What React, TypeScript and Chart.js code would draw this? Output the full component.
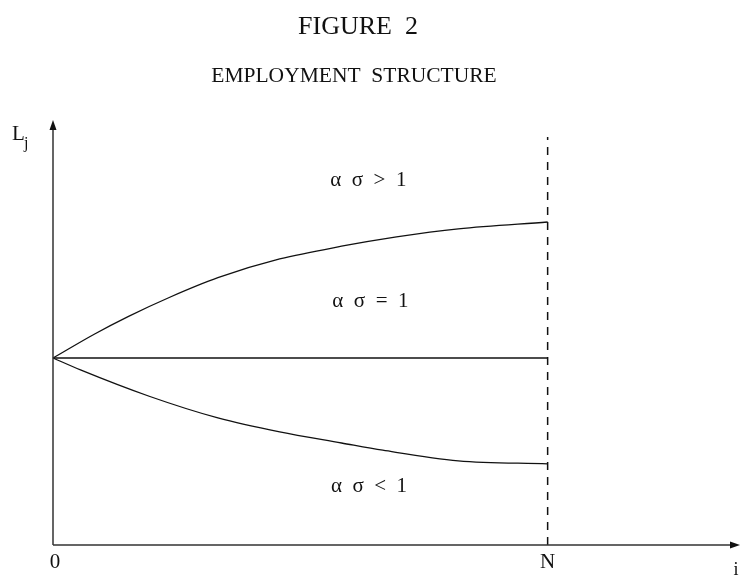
import React, { useEffect, useRef } from "react";
import { Chart, registerables } from "chart.js";

Chart.register(...registerables);

// Domain: i from 0 to 100, N at 72; L_j from 0 to 100
const X_MAX = 100;
const Y_MAX = 100;
const N_VALUE = 72;
const BASE_LEVEL = 44;
const DASH_TOP = 96;

// upper curve (alpha*sigma > 1)
const upperX = [0, 6, 11, 17, 24, 33, 42, 50, 59, 72];
const upperY = [44, 49.6, 53.8, 58.3, 62.9, 67.3, 70.3, 72.5, 74.4, 76];

// lower curve (alpha*sigma < 1)
const lowerX = [0, 4, 14, 24, 33, 42, 48, 59, 72];
const lowerY = [44, 41.2, 35, 29.9, 26.6, 24.0, 22.3, 19.8, 19.1];

// horizontal (alpha*sigma = 1)
const flatX = [0, N_VALUE];
const flatY = [BASE_LEVEL, BASE_LEVEL];

const regionLabels = ["α  σ  >  1", "α  σ  =  1", "α  σ  <  1"];
const tickLabels = ["0", "N"];
const tickValues = [0, N_VALUE];

const SERIF = "'Liberation Serif', 'Times New Roman', serif";

const toPts = (xs: number[], ys: number[]) => xs.map((x, i) => ({ x, y: ys[i] }));

const drawPlugin = {
  id: "figureDecor",
  afterDatasetsDraw(chart: any) {
    const ctx = chart.ctx as CanvasRenderingContext2D;
    const xs = chart.scales.x;
    const ys = chart.scales.y;
    const x0 = xs.getPixelForValue(0);
    const y0 = ys.getPixelForValue(0);
    const xEnd = xs.getPixelForValue(X_MAX);
    const yEnd = ys.getPixelForValue(Y_MAX);
    ctx.save();
    // axes
    ctx.strokeStyle = "#333";
    ctx.fillStyle = "#111";
    ctx.lineWidth = 1.5;
    ctx.beginPath();
    ctx.moveTo(x0, y0);
    ctx.lineTo(x0, yEnd + 6);
    ctx.moveTo(x0, y0);
    ctx.lineTo(xEnd - 6, y0);
    ctx.stroke();
    // arrowheads
    ctx.beginPath();
    ctx.moveTo(x0, yEnd);
    ctx.lineTo(x0 - 3.5, yEnd + 10);
    ctx.lineTo(x0 + 3.5, yEnd + 10);
    ctx.closePath();
    ctx.fill();
    ctx.beginPath();
    ctx.moveTo(xEnd, y0);
    ctx.lineTo(xEnd - 10, y0 - 3.5);
    ctx.lineTo(xEnd - 10, y0 + 3.5);
    ctx.closePath();
    ctx.fill();

    // titles
    ctx.fillStyle = "#111";
    ctx.textAlign = "center";
    ctx.textBaseline = "alphabetic";
    ctx.font = `26px ${SERIF}`;
    ctx.fillText("FIGURE  2", 358, 34);
    ctx.font = `21.5px ${SERIF}`;
    ctx.fillText("EMPLOYMENT  STRUCTURE", 354, 82);

    // tick labels
    ctx.font = `21px ${SERIF}`;
    tickLabels.forEach((t, i) => {
      ctx.fillText(t, xs.getPixelForValue(tickValues[i]) + (i === 0 ? 2 : 0), 568);
    });
    // axis names
    ctx.font = `18px ${SERIF}`;
    ctx.fillText("i", 736, 575);
    ctx.textAlign = "left";
    ctx.font = `21px ${SERIF}`;
    ctx.fillText("L", 12, 140);
    ctx.font = `16px ${SERIF}`;
    ctx.fillText("j", 24, 148);

    // region labels
    ctx.textAlign = "center";
    ctx.font = `21px ${SERIF}`;
    const labelPos = [
      [45.9, 84.5],
      [46.2, 56],
      [46, 12.5],
    ];
    regionLabels.forEach((t, i) => {
      ctx.fillText(t, xs.getPixelForValue(labelPos[i][0]), ys.getPixelForValue(labelPos[i][1]));
    });
    ctx.restore();
  },
};

export default function App() {
  const ref = useRef<HTMLCanvasElement | null>(null);
  useEffect(() => {
    document.body.style.margin = "0";
    const canvas = ref.current!;
    const line = { borderColor: "#111", borderWidth: 1.3, pointRadius: 0, fill: false, clip: false as any };
    const chart = new Chart(canvas, {
      type: "line",
      data: {
        datasets: [
          { ...line, data: toPts(upperX, upperY), cubicInterpolationMode: "monotone" },
          { ...line, data: toPts(flatX, flatY) },
          { ...line, data: toPts(lowerX, lowerY), cubicInterpolationMode: "monotone" },
          {
            ...line,
            borderWidth: 1.5,
            borderDash: [8, 7],
            data: toPts([N_VALUE, N_VALUE], [0, DASH_TOP]),
          },
        ],
      },
      options: {
        animation: false,
        responsive: false,
        events: [],
        layout: { padding: { left: 53, right: 1, top: 120, bottom: 30 } },
        plugins: { legend: { display: false }, tooltip: { enabled: false }, title: { display: false } },
        scales: {
          x: { type: "linear", min: 0, max: X_MAX, display: false },
          y: { type: "linear", min: 0, max: Y_MAX, display: false },
        },
      },
      plugins: [drawPlugin],
    });
    return () => chart.destroy();
  }, []);
  return (
    <div style={{ position: "fixed", left: 0, top: 0, width: 741, height: 575, background: "#fff" }}>
      <canvas ref={ref} width={741} height={575} style={{ width: 741, height: 575, display: "block" }} />
    </div>
  );
}
